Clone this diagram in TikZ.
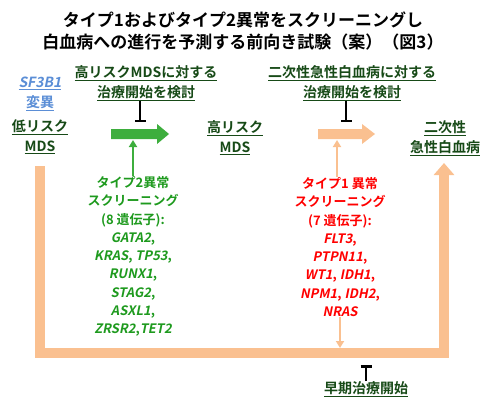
\documentclass[tikz,border=0pt]{standalone}
\usepackage{fontspec}
\setmainfont{Noto Sans CJK JP}[BoldFont={Noto Sans CJK JP Bold}, ItalicFont={Noto Sans CJK JP}, ItalicFeatures={FakeSlant=0.2}, BoldItalicFont={Noto Sans CJK JP Bold}, BoldItalicFeatures={FakeSlant=0.2}]
\usetikzlibrary{arrows.meta}
\definecolor{dgreen}{HTML}{174A17}
\definecolor{agreen}{HTML}{3DAE3D}
\definecolor{tgreen}{HTML}{1E9A1E}
\definecolor{peach}{HTML}{FAC090}
\definecolor{tred}{HTML}{FF0000}
\definecolor{tblue}{HTML}{5B8ED6}
\newcommand{\myul}[1]{\underline{#1}}
\begin{document}
\begin{tikzpicture}[x=1pt,y=-1pt,
  lbl/.style={font=\fontsize{14}{20}\selectfont\bfseries, text=dgreen, align=center, inner sep=0pt},
  body/.style={font=\fontsize{13}{18.3}\selectfont\bfseries, align=center, inner sep=0pt},
  thin/.style={line width=2.5pt, -{Triangle[width=8pt,length=7pt]}},
  tbar/.style={line width=2.5pt, black, -{Bar[width=11pt,line width=2.5pt]}},
  bigline/.style={line width=10pt, peach, line join=miter, -{Triangle[width=20pt,length=12pt]}}
]
\useasboundingbox (0,0) rectangle (486,401);

\node[font=\fontsize{17}{22}\selectfont\bfseries, align=center, inner sep=0pt] (title) at (243,31)
  {タイプ1およびタイプ2異常をスクリーニングし\\白血病への進行を予測する前向き試験（案）（図3）};

\node[lbl, text=tblue] (sf) at (40,94) {\myul{\textit{SF3B1}}\\\myul{変異}};
\node[lbl] (lr) at (40,137) {\myul{低リスク}\\\myul{MDS}};
\node[lbl] (t1) at (146,83) {\myul{高リスクMDSに対する}\\\myul{治療開始を検討}};
\node[lbl] (hr) at (235,138) {\myul{高リスク}\\\myul{MDS}};
\node[lbl] (t2) at (352,83) {\myul{二次性急性白血病に対する}\\\myul{治療開始を検討}};
\node[lbl] (aml) at (445,138) {\myul{二次性}\\\myul{急性白血病}};
\node[lbl] (early) at (366,389) {\myul{早期治療開始}};

% block arrows
\fill[agreen] (111,129) -- (157,129) -- (157,124) -- (169,134) -- (157,144) -- (157,139) -- (111,139) -- cycle;
\fill[peach] (318,129) -- (362,129) -- (362,124) -- (375,134) -- (362,144) -- (362,139) -- (318,139) -- cycle;
\coordinate (gbot) at (133,140);
\coordinate (gtop) at (140,122);
\coordinate (obot) at (337,140);
\coordinate (otop) at (346,122);

\node[body, text=tgreen] (gt) at (133,256.5)
  {タイプ2異常\\スクリーニング\\(8 遺伝子):\\\textit{GATA2},\\\textit{KRAS}, \textit{TP53},\\\textit{RUNX1},\\\textit{STAG2},\\\textit{ASXL1},\\\textit{ZRSR2},\textit{TET2}};
\node[body, text=tred] (rt) at (340,247)
  {タイプ1 異常\\スクリーニング\\(7 遺伝子):\\\textit{FLT3},\\\textit{PTPN11},\\\textit{WT1}, \textit{IDH1},\\\textit{NPM1}, \textit{IDH2},\\\textit{NRAS}};

\coordinate (bot) at (240,353);
\coordinate (lstart) at (40,166);
\coordinate (aend) at (444,163);
\coordinate (bartop) at (340,348);
\coordinate (bbar) at (366,365);

\draw[bigline] (lstart) |- (bot) -| (aend);

\draw[thin, agreen] (gt.north) -- (gbot);
\draw[thin, peach] (rt.north -| obot) -- (obot);
\draw[thin, peach] (rt.south) -- (bartop);

\draw[tbar] (t1.south -| gtop) -- (gtop);
\draw[tbar] (t2.south -| otop) -- (otop);
\draw[tbar] (early.north) -- (bbar);
\end{tikzpicture}
\end{document}
